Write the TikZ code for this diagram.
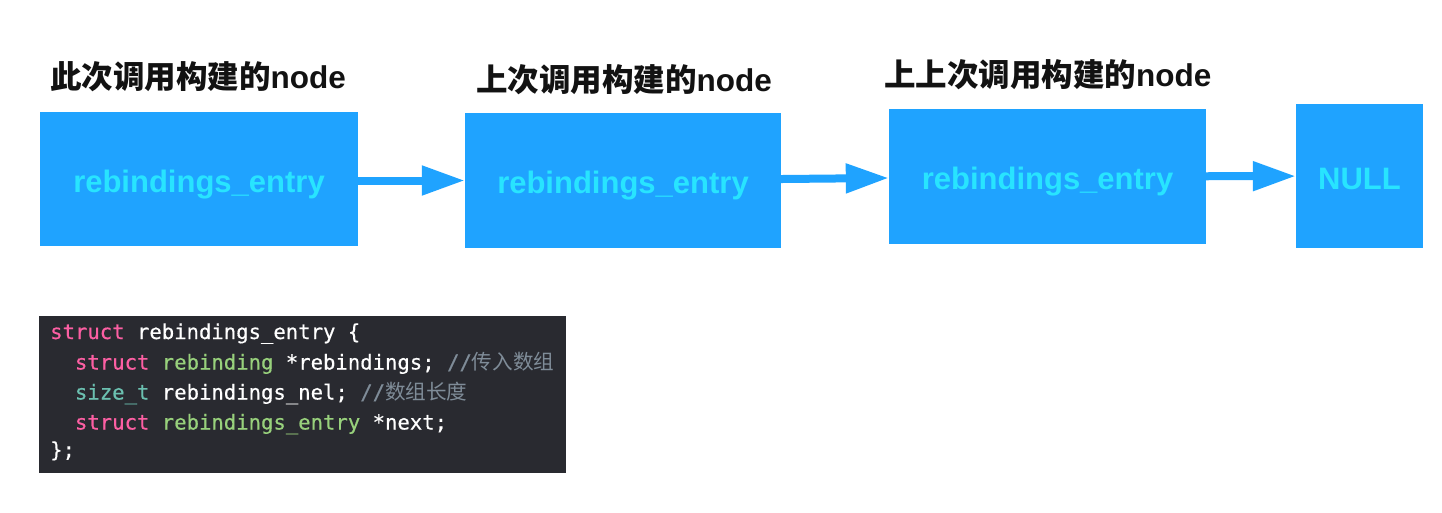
\documentclass[tikz,border=0pt]{standalone}
\usepackage{fontspec}
\setmainfont{Liberation Sans}
\newfontfamily\cjk{Noto Sans CJK SC}
\newfontfamily\codefont{DejaVu Sans Mono}[FakeBold=0.5]
\usetikzlibrary{arrows.meta}
\definecolor{boxblue}{HTML}{1FA3FF}
\definecolor{boxtext}{HTML}{28E4FF}
\definecolor{codebg}{HTML}{292A30}
\definecolor{kwpink}{HTML}{FC5FA3}
\definecolor{typegreen}{HTML}{98D17C}
\definecolor{typeteal}{HTML}{6BC0B0}
\definecolor{cmtgray}{HTML}{7F8C98}
\tikzset{
  entrybox/.style={fill=boxblue, inner sep=0pt, text=boxtext,
    text height=26pt, text depth=0pt,
    font=\fontsize{31}{36}\selectfont\bfseries},
  heading/.style={anchor=base west, inner sep=0pt, text=black!93,
    font=\fontsize{31.5}{36}\selectfont\bfseries},
  codeline/.style={anchor=base west, inner sep=0pt, text=white,
    font=\codefont\fontsize{20.6}{30}\selectfont},
  nextarrow/.style={-{Triangle[width=28pt,length=43pt]}, line width=8pt, boxblue}
}
\newcommand{\kw}[1]{\textcolor{kwpink}{#1}}
\newcommand{\ty}[1]{\textcolor{typegreen}{#1}}
\newcommand{\cm}[1]{\textcolor{cmtgray}{#1}}
\begin{document}
\begin{tikzpicture}[x=1pt,y=-1pt]
    \useasboundingbox (0,0) rectangle (1442,512);
    % the list
    \node[entrybox, minimum width=318pt, minimum height=134pt] (first) at (199,179) {rebindings\_entry};
    \node[entrybox, minimum width=316pt, minimum height=135pt] (second) at (623,180.5) {rebindings\_entry};
    \node[entrybox, minimum width=317pt, minimum height=135pt] (third) at (1047.5,176.5) {rebindings\_entry};
    \node[entrybox, minimum width=127pt, minimum height=144pt] (null) at (1359.5,176) {NULL};
    \draw[nextarrow] (first.east |- second) -- (second);
    \draw[nextarrow] (second) -- (third);
    \draw[nextarrow] (third) -- (null);
    % headings
    \node[heading] (firsthead) at (50,88) {{\cjk\bfseries 此次调用构建的}node};
    \node[heading] (secondhead) at (476,91) {{\cjk\bfseries 上次调用构建的}node};
    \node[heading] (thirdhead) at (884,86) {{\cjk\bfseries 上上次调用构建的}node};
    % the struct
    \node[fill=codebg, inner sep=0pt, minimum width=527pt, minimum height=157pt, anchor=north west] (code) at (39,316) {};
    \node[codeline] (lineA) at (50,339) {\kw{struct} rebindings\_entry \{};
    \node[codeline] (lineB) at (50,369.5) {\phantom{xx}\kw{struct} \ty{rebinding} *rebindings; \cm{//{\cjk 传入数组}}};
    \node[codeline] (lineC) at (50,399.5) {\phantom{xx}\textcolor{typeteal}{size\_t} rebindings\_nel; \cm{//{\cjk 数组长度}}};
    \node[codeline] (lineD) at (50,429.5) {\phantom{xx}\kw{struct} \ty{rebindings\_entry} *next;};
    \node[codeline] (lineE) at (50,457) {\};};
\end{tikzpicture}
\end{document}
